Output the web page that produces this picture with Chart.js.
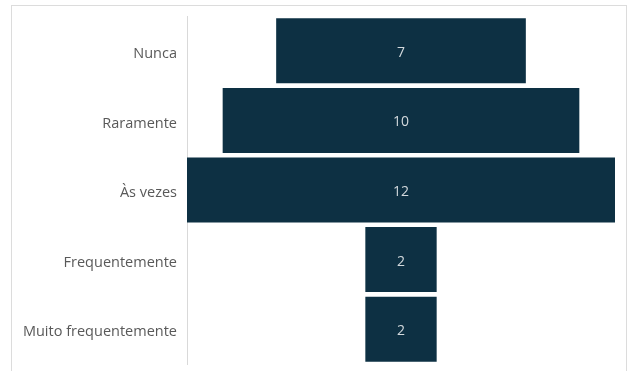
<!DOCTYPE html>
<html>
<head>
<meta charset="utf-8">
<script src="https://cdn.jsdelivr.net/npm/chart.js@4/dist/chart.umd.min.js"></script>
<style>
  html, body { margin: 0; padding: 0; background: #fff; overflow: hidden; }
  canvas { display: block; }
</style>
</head>
<body>
<canvas id="funnel" width="628" height="371"></canvas>
<script>
const categories = ['Nunca', 'Raramente', 'Às vezes', 'Frequentemente', 'Muito frequentemente'];
const counts = [7, 10, 12, 2, 2];

const BAR_COLOR = '#0d3043';
const maxCount = Math.max(...counts);

// funnel: each bar is centred on zero, spanning -v/2 .. v/2
const spans = counts.map((v) => [-v / 2, v / 2]);

const frameBorder = {
  id: 'frameBorder',
  beforeDraw(chart) {
    const ctx = chart.ctx;
    ctx.save();
    ctx.strokeStyle = '#dcdcdc';
    ctx.lineWidth = 1;
    ctx.strokeRect(11.5, 5.5, 615, 400);
    ctx.restore();
  },
};

const valueLabels = {
  id: 'valueLabels',
  afterDatasetsDraw(chart) {
    const ctx = chart.ctx;
    const meta = chart.getDatasetMeta(0);
    ctx.save();
    ctx.fillStyle = '#d3d9dd';
    ctx.font = '14px "Open Sans", sans-serif';
    ctx.textAlign = 'center';
    ctx.textBaseline = 'middle';
    meta.data.forEach((bar, i) => {
      const p = bar.getProps(['x', 'base', 'y']);
      ctx.fillText(String(counts[i]), (p.x + p.base) / 2, p.y + 2);
    });
    ctx.restore();
  },
};

new Chart(document.getElementById('funnel'), {
  type: 'bar',
  data: {
    labels: categories,
    datasets: [
      {
        data: spans,
        backgroundColor: BAR_COLOR,
        borderWidth: 0,
        borderSkipped: false,
        barPercentage: 0.934,
        categoryPercentage: 1,
      },
    ],
  },
  options: {
    indexAxis: 'y',
    responsive: false,
    animation: false,
    layout: { padding: { left: 11, top: 16, right: 13, bottom: 7 } },
    plugins: {
      legend: { display: false },
      tooltip: { enabled: false },
    },
    scales: {
      x: {
        display: false,
        min: -maxCount / 2,
        max: maxCount / 2,
      },
      y: {
        afterFit: (scale) => {
          scale.width = 176;
          scale.paddingTop = 0;
          scale.paddingBottom = 0;
        },
        grid: { display: false, drawTicks: false },
        border: { display: true, color: '#d9d9d9', width: 1 },
        ticks: {
          padding: 10,
          labelOffset: 3,
          color: '#595959',
          font: { family: '"Open Sans", sans-serif', size: 14.5 },
        },
      },
    },
  },
  plugins: [frameBorder, valueLabels],
});
</script>
</body>
</html>
